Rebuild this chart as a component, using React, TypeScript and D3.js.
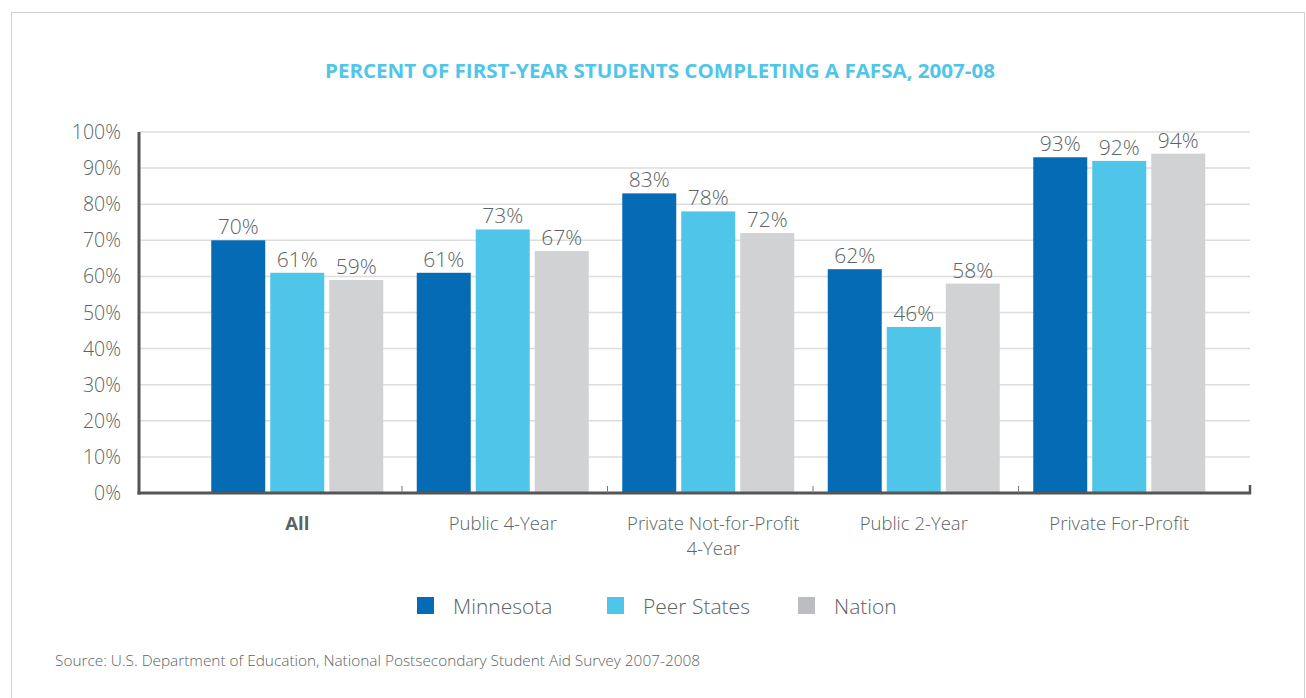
import React from "react";
import * as d3 from "d3";

const categories = ["All", "Public 4-Year", "Private Not-for-Profit\n4-Year", "Public 2-Year", "Private For-Profit"];
const seriesNames = ["Minnesota", "Peer States", "Nation"];
const minnesota = [70, 61, 83, 62, 93];
const peerStates = [61, 73, 78, 46, 92];
const nation = [59, 67, 72, 58, 94];
const yTicks = [0, 10, 20, 30, 40, 50, 60, 70, 80, 90, 100];
const colors = ["#066bb5", "#4fc6e9", "#d1d2d4"];

const FONT = "'Open Sans', 'Noto Sans', sans-serif";
const TEXT = "#5a6464";

export default function App() {
  const W = 1306, H = 698;
  const x0 = 139, x1 = 1250;
  const y = d3.scaleLinear().domain([0, 100]).range([493, 132]);
  const xb = d3.scaleBand<string>().domain(categories).range([196.5, 1224]).paddingInner(0).paddingOuter(0);
  const inner = d3.scaleBand<string>().domain(seriesNames).range([0, 172]).paddingInner(0.085);
  const series = [minnesota, peerStates, nation];
  const groupOff = (xb.bandwidth() - 172) / 2 - 2;

  return (
    <svg width={W} height={H} style={{ position: "absolute", left: 0, top: 0 }}>
      <rect x={0} y={0} width={W} height={H} fill="#fff" />
      <rect x={11.5} y={12.5} width={1293} height={700} fill="none" stroke="#d0d0d0" strokeWidth={1} />
      <text x={660} y={78} textAnchor="middle" fill="#4fc6e9" fontFamily={FONT} fontWeight={700} fontSize={20} textLength={670} lengthAdjust="spacingAndGlyphs">
        PERCENT OF FIRST-YEAR STUDENTS COMPLETING A FAFSA, 2007-08
      </text>
      {yTicks.map((t) => (
        <g key={t}>
          {t > 0 && <line x1={x0} x2={x1} y1={y(t)} y2={y(t)} stroke="#dcdcdc" strokeWidth={1.5} />}
          <text x={121} y={y(t) + 7} textAnchor="end" fill={TEXT} fontFamily={FONT} fontSize={19.5} fontWeight={300}>{t}%</text>
        </g>
      ))}
      {categories.map((c, i) => (
        <g key={c}>
          {seriesNames.map((s, j) => {
            const v = series[j][i];
            const bx = (xb(c) as number) + groupOff + (inner(s) as number);
            return (
              <g key={s}>
                <rect x={bx} y={y(v)} width={inner.bandwidth()} height={y(0) - y(v)} fill={colors[j]} />
                <text x={bx + inner.bandwidth() / 2} y={y(v) - 6} textAnchor="middle" fill={TEXT} fontFamily={FONT} fontSize={21} fontWeight={300}>{v}%</text>
              </g>
            );
          })}
        </g>
      ))}
      <line x1={x0} x2={x0} y1={132} y2={494.5} stroke="#555" strokeWidth={3} />
      <line x1={x0 - 1.5} x2={x1 + 1} y1={493} y2={493} stroke="#555" strokeWidth={3} />
      {categories.slice(1).map((c) => (
        <line key={c} x1={xb(c) as number} x2={xb(c) as number} y1={486} y2={493} stroke="#777" strokeWidth={1} />
      ))}
      <line x1={x1} x2={x1} y1={485} y2={494} stroke="#555" strokeWidth={2.5} />
      {categories.map((c, i) => {
        const lines = c.split("\n");
        const cx = (xb(c) as number) + xb.bandwidth() / 2 - 2 + (lines.length > 1 ? 5 : 0);
        return (
          <g key={c}>
            {lines.map((l, k) => (
              <text key={k} x={cx} y={530 + k * 24.5} textAnchor="middle" fill={TEXT} fontFamily={FONT} fontSize={18.5} fontWeight={i === 0 ? 700 : 300}>{l}</text>
            ))}
          </g>
        );
      })}
      {seriesNames.map((s, j) => {
        const lx = [417, 607, 798][j];
        return (
          <g key={s}>
            <rect x={lx} y={597} width={17} height={17} fill={colors[j] === "#d1d2d4" ? "#bcbdc0" : colors[j]} />
            <text x={lx + 36} y={614} fill={TEXT} fontFamily={FONT} fontSize={21} fontWeight={300}>{s}</text>
          </g>
        );
      })}
      <text x={55} y={666} fill={TEXT} fontFamily={FONT} fontSize={15} fontWeight={300} textLength={645} lengthAdjust="spacingAndGlyphs">
        Source: U.S. Department of Education, National Postsecondary Student Aid Survey 2007-2008
      </text>
    </svg>
  );
}
